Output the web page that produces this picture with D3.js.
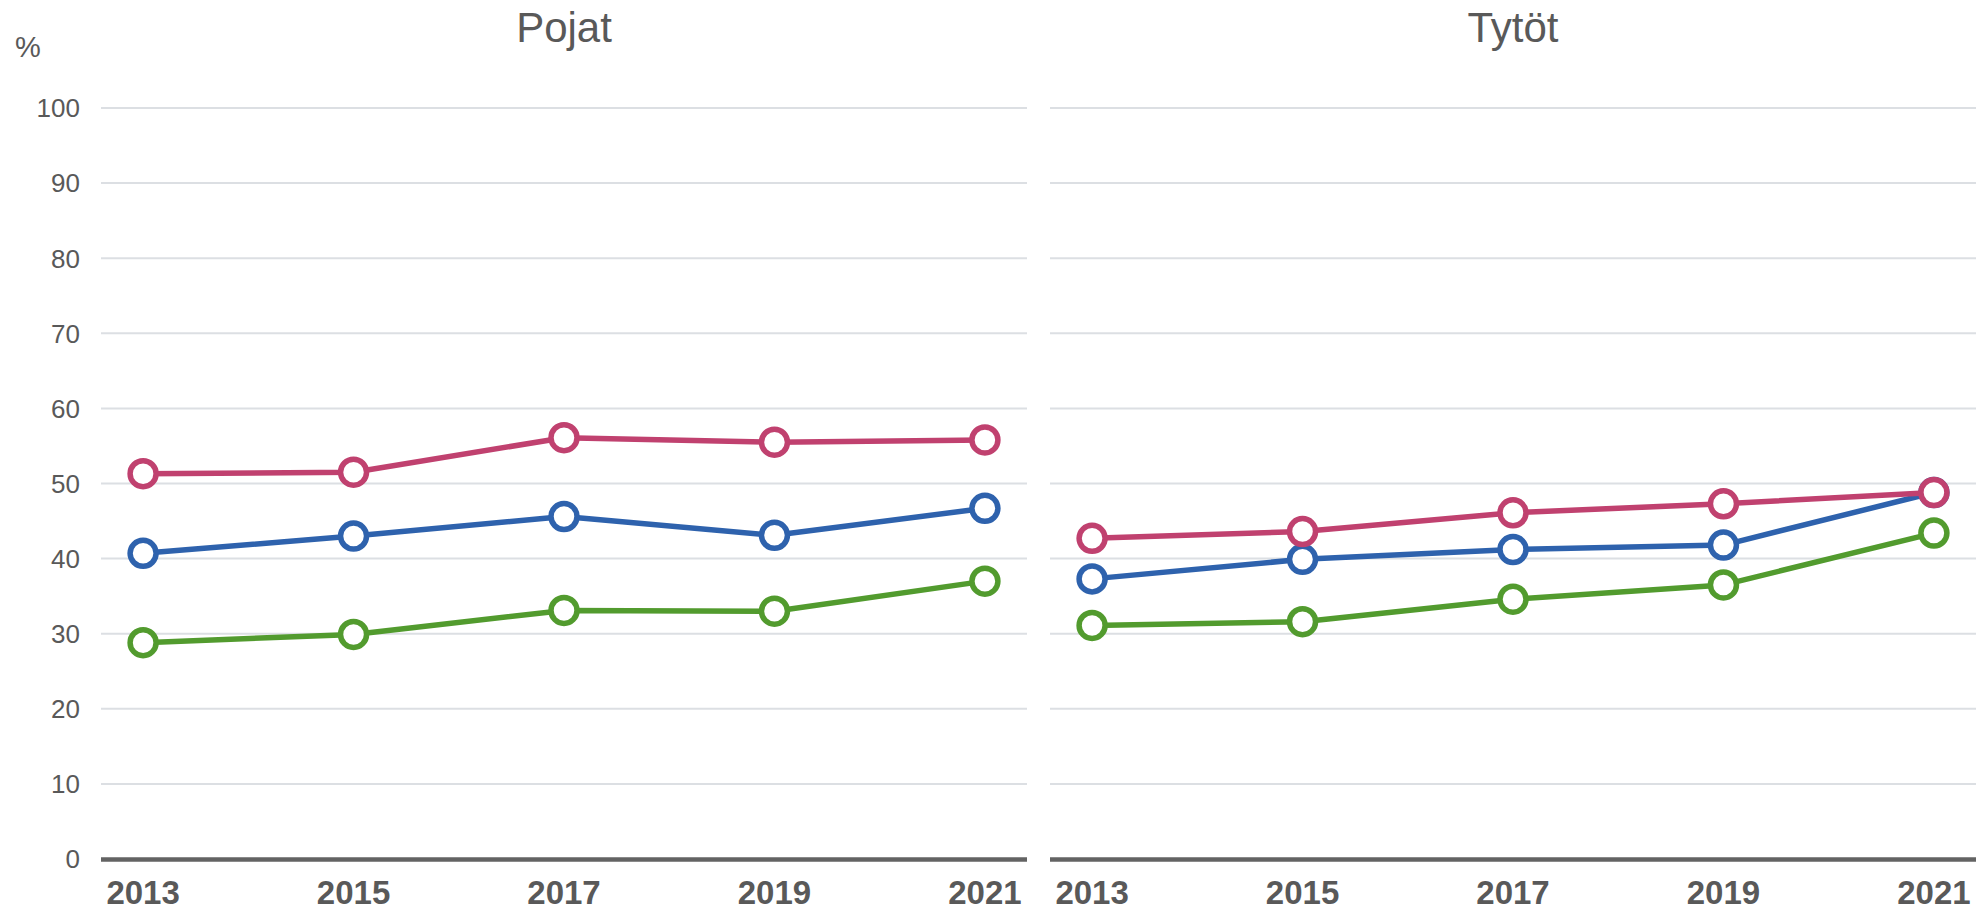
<!DOCTYPE html>
<html>
<head>
<meta charset="utf-8">
<script src="https://cdn.jsdelivr.net/npm/d3@7"></script>
<style>
  body { margin: 0; background: #fff; }
  svg { display: block; font-family: "Liberation Sans", Arial, sans-serif; }
</style>
</head>
<body>
<div></div>
<script>
// data
const years = ["2013", "2015", "2017", "2019", "2021"];
const yTicks = [0, 10, 20, 30, 40, 50, 60, 70, 80, 90, 100];
const panels = ["Pojat", "Tytöt"];

// Pojat
const boysPink  = [51.3, 51.5, 56.1, 55.5, 55.8];
const boysBlue  = [40.7, 43.0, 45.6, 43.1, 46.7];
const boysGreen = [28.8, 29.9, 33.1, 33.0, 37.0];
// Tytöt
const girlsPink  = [42.7, 43.6, 46.1, 47.3, 48.8];
const girlsBlue  = [37.3, 39.9, 41.2, 41.8, 48.8];
const girlsGreen = [31.1, 31.6, 34.6, 36.5, 43.4];

const seriesColors = { blue: "#2e62ad", green: "#529b2e", pink: "#c0416f" };

const width = 1982, height = 911;

const svg = d3.select("div")
    .append("svg")
    .attr("width", width)
    .attr("height", height);

const y = d3.scaleLinear().domain([0, 100]).range([859, 108]);

const panelRanges = [[101, 1027], [1050, 1976]];

// blue first, pink last so pink sits on top where they meet (Tytöt 2021)
const panelData = [
    [ { key: "blue", values: boysBlue }, { key: "green", values: boysGreen }, { key: "pink", values: boysPink } ],
    [ { key: "blue", values: girlsBlue }, { key: "green", values: girlsGreen }, { key: "pink", values: girlsPink } ]
];

// y tick labels (left only) + % unit
svg.append("text")
    .attr("x", 15).attr("y", 57)
    .attr("font-size", 29)
    .attr("fill", "#595959")
    .text("%");

svg.append("g")
    .selectAll("text")
    .data(yTicks)
    .join("text")
    .attr("x", 80)
    .attr("y", d => y(d))
    .attr("dy", "0.36em")
    .attr("text-anchor", "end")
    .attr("font-size", 26)
    .attr("fill", "#595959")
    .text(d => d);

panels.forEach((name, i) => {
    const [x0, x1] = panelRanges[i];
    const x = d3.scalePoint().domain(years).range([x0, x1]).padding(0.2);
    const g = svg.append("g");

    // gridlines
    g.selectAll("line.grid")
        .data(yTicks.filter(d => d > 0))
        .join("line")
        .attr("class", "grid")
        .attr("x1", x0).attr("x2", x1)
        .attr("y1", d => y(d)).attr("y2", d => y(d))
        .attr("stroke", "#dcdfe3")
        .attr("stroke-width", 2);

    // baseline
    g.append("line")
        .attr("x1", x0).attr("x2", x1)
        .attr("y1", y(0) + 0.5).attr("y2", y(0) + 0.5)
        .attr("stroke", "#636363")
        .attr("stroke-width", 4.5);

    // x axis labels
    g.selectAll("text.year")
        .data(years)
        .join("text")
        .attr("class", "year")
        .attr("x", d => x(d))
        .attr("y", 904)
        .attr("text-anchor", "middle")
        .attr("font-size", 33)
        .attr("font-weight", "bold")
        .attr("fill", "#595959")
        .text(d => d);

    // panel title
    g.append("text")
        .attr("x", (x0 + x1) / 2)
        .attr("y", 42)
        .attr("text-anchor", "middle")
        .attr("font-size", 42)
        .attr("fill", "#595959")
        .text(name);

    const line = d3.line()
        .x((d, j) => x(years[j]))
        .y(d => y(d));

    panelData[i].forEach(s => {
        g.append("path")
            .datum(s.values)
            .attr("d", line)
            .attr("fill", "none")
            .attr("stroke", seriesColors[s.key])
            .attr("stroke-width", 5.5)
            .attr("stroke-linejoin", "round");

        g.selectAll("circle." + s.key)
            .data(s.values)
            .join("circle")
            .attr("class", s.key)
            .attr("cx", (d, j) => x(years[j]))
            .attr("cy", d => y(d))
            .attr("r", 13)
            .attr("fill", "#fff")
            .attr("stroke", seriesColors[s.key])
            .attr("stroke-width", 5.5);
    });
});
</script>
</body>
</html>
